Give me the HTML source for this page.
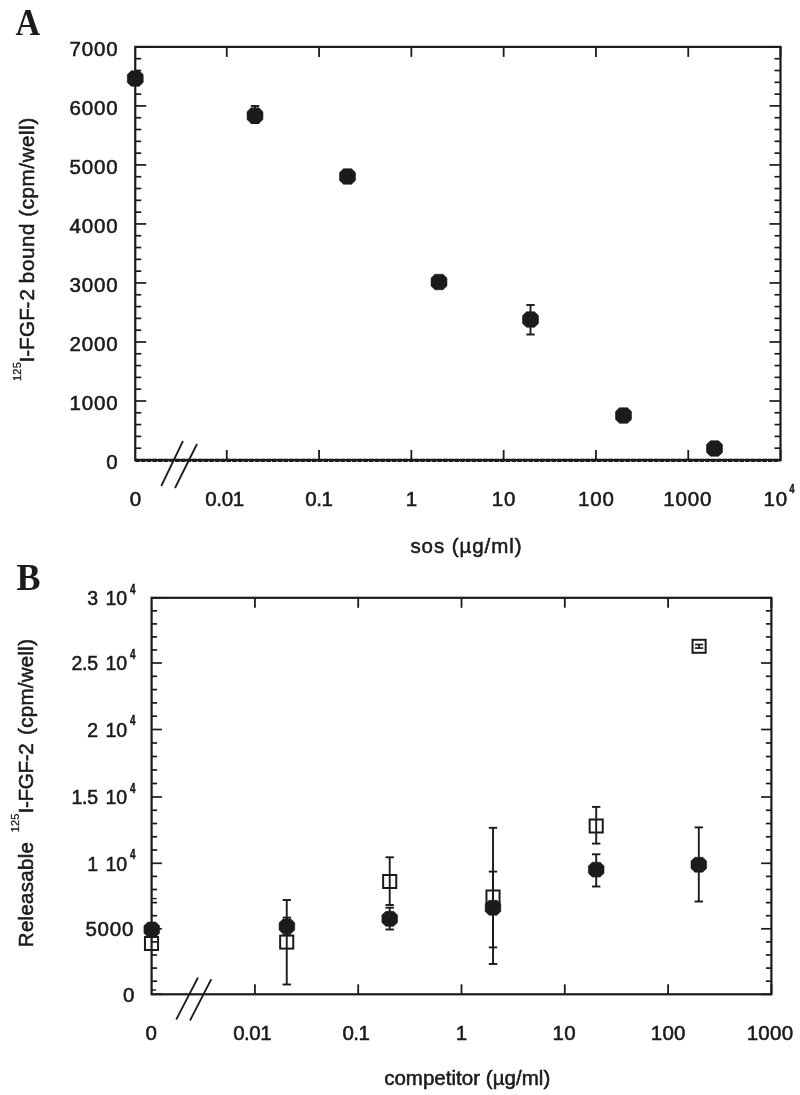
<!DOCTYPE html>
<html><head><meta charset="utf-8"><title>Figure</title>
<style>html,body{margin:0;padding:0;background:#fff}svg{display:block}text{font-family:"Liberation Sans",sans-serif;fill:#1c1a1b}.p{font-family:"Liberation Serif",serif;font-weight:bold;font-size:38px}.t{font-size:20.5px;letter-spacing:1px;stroke:#1c1a1b;stroke-width:0.55px}.s{font-size:11.5px;font-weight:bold;letter-spacing:0.3px;stroke:#1c1a1b;stroke-width:0.5px}.u{font-size:11px;letter-spacing:0.2px;stroke:#1c1a1b;stroke-width:0.3px}</style></head><body>
<svg width="800" height="1095" viewBox="0 0 800 1095">
<rect width="800" height="1095" fill="#fff"/>
<rect x="135.25" y="46.9" width="645.25" height="413.1" fill="none" stroke="#1c1a1b" stroke-width="2.2"/>
<line x1="135.25" y1="460.3" x2="780.5" y2="460.3" stroke="#1c1a1b" stroke-width="3.2" stroke-dasharray="4.6 1.1"/>
<line x1="135.25" y1="460.00" x2="146.25" y2="460.00" stroke="#1c1a1b" stroke-width="1.7"/>
<line x1="780.50" y1="460.00" x2="769.50" y2="460.00" stroke="#1c1a1b" stroke-width="1.7"/>
<line x1="135.25" y1="448.20" x2="141.25" y2="448.20" stroke="#1c1a1b" stroke-width="1.7"/>
<line x1="780.50" y1="448.20" x2="774.50" y2="448.20" stroke="#1c1a1b" stroke-width="1.7"/>
<line x1="135.25" y1="436.39" x2="141.25" y2="436.39" stroke="#1c1a1b" stroke-width="1.7"/>
<line x1="780.50" y1="436.39" x2="774.50" y2="436.39" stroke="#1c1a1b" stroke-width="1.7"/>
<line x1="135.25" y1="424.59" x2="141.25" y2="424.59" stroke="#1c1a1b" stroke-width="1.7"/>
<line x1="780.50" y1="424.59" x2="774.50" y2="424.59" stroke="#1c1a1b" stroke-width="1.7"/>
<line x1="135.25" y1="412.79" x2="141.25" y2="412.79" stroke="#1c1a1b" stroke-width="1.7"/>
<line x1="780.50" y1="412.79" x2="774.50" y2="412.79" stroke="#1c1a1b" stroke-width="1.7"/>
<line x1="135.25" y1="400.99" x2="146.25" y2="400.99" stroke="#1c1a1b" stroke-width="1.7"/>
<line x1="780.50" y1="400.99" x2="769.50" y2="400.99" stroke="#1c1a1b" stroke-width="1.7"/>
<line x1="135.25" y1="389.18" x2="141.25" y2="389.18" stroke="#1c1a1b" stroke-width="1.7"/>
<line x1="780.50" y1="389.18" x2="774.50" y2="389.18" stroke="#1c1a1b" stroke-width="1.7"/>
<line x1="135.25" y1="377.38" x2="141.25" y2="377.38" stroke="#1c1a1b" stroke-width="1.7"/>
<line x1="780.50" y1="377.38" x2="774.50" y2="377.38" stroke="#1c1a1b" stroke-width="1.7"/>
<line x1="135.25" y1="365.58" x2="141.25" y2="365.58" stroke="#1c1a1b" stroke-width="1.7"/>
<line x1="780.50" y1="365.58" x2="774.50" y2="365.58" stroke="#1c1a1b" stroke-width="1.7"/>
<line x1="135.25" y1="353.77" x2="141.25" y2="353.77" stroke="#1c1a1b" stroke-width="1.7"/>
<line x1="780.50" y1="353.77" x2="774.50" y2="353.77" stroke="#1c1a1b" stroke-width="1.7"/>
<line x1="135.25" y1="341.97" x2="146.25" y2="341.97" stroke="#1c1a1b" stroke-width="1.7"/>
<line x1="780.50" y1="341.97" x2="769.50" y2="341.97" stroke="#1c1a1b" stroke-width="1.7"/>
<line x1="135.25" y1="330.17" x2="141.25" y2="330.17" stroke="#1c1a1b" stroke-width="1.7"/>
<line x1="780.50" y1="330.17" x2="774.50" y2="330.17" stroke="#1c1a1b" stroke-width="1.7"/>
<line x1="135.25" y1="318.37" x2="141.25" y2="318.37" stroke="#1c1a1b" stroke-width="1.7"/>
<line x1="780.50" y1="318.37" x2="774.50" y2="318.37" stroke="#1c1a1b" stroke-width="1.7"/>
<line x1="135.25" y1="306.56" x2="141.25" y2="306.56" stroke="#1c1a1b" stroke-width="1.7"/>
<line x1="780.50" y1="306.56" x2="774.50" y2="306.56" stroke="#1c1a1b" stroke-width="1.7"/>
<line x1="135.25" y1="294.76" x2="141.25" y2="294.76" stroke="#1c1a1b" stroke-width="1.7"/>
<line x1="780.50" y1="294.76" x2="774.50" y2="294.76" stroke="#1c1a1b" stroke-width="1.7"/>
<line x1="135.25" y1="282.96" x2="146.25" y2="282.96" stroke="#1c1a1b" stroke-width="1.7"/>
<line x1="780.50" y1="282.96" x2="769.50" y2="282.96" stroke="#1c1a1b" stroke-width="1.7"/>
<line x1="135.25" y1="271.15" x2="141.25" y2="271.15" stroke="#1c1a1b" stroke-width="1.7"/>
<line x1="780.50" y1="271.15" x2="774.50" y2="271.15" stroke="#1c1a1b" stroke-width="1.7"/>
<line x1="135.25" y1="259.35" x2="141.25" y2="259.35" stroke="#1c1a1b" stroke-width="1.7"/>
<line x1="780.50" y1="259.35" x2="774.50" y2="259.35" stroke="#1c1a1b" stroke-width="1.7"/>
<line x1="135.25" y1="247.55" x2="141.25" y2="247.55" stroke="#1c1a1b" stroke-width="1.7"/>
<line x1="780.50" y1="247.55" x2="774.50" y2="247.55" stroke="#1c1a1b" stroke-width="1.7"/>
<line x1="135.25" y1="235.75" x2="141.25" y2="235.75" stroke="#1c1a1b" stroke-width="1.7"/>
<line x1="780.50" y1="235.75" x2="774.50" y2="235.75" stroke="#1c1a1b" stroke-width="1.7"/>
<line x1="135.25" y1="223.94" x2="146.25" y2="223.94" stroke="#1c1a1b" stroke-width="1.7"/>
<line x1="780.50" y1="223.94" x2="769.50" y2="223.94" stroke="#1c1a1b" stroke-width="1.7"/>
<line x1="135.25" y1="212.14" x2="141.25" y2="212.14" stroke="#1c1a1b" stroke-width="1.7"/>
<line x1="780.50" y1="212.14" x2="774.50" y2="212.14" stroke="#1c1a1b" stroke-width="1.7"/>
<line x1="135.25" y1="200.34" x2="141.25" y2="200.34" stroke="#1c1a1b" stroke-width="1.7"/>
<line x1="780.50" y1="200.34" x2="774.50" y2="200.34" stroke="#1c1a1b" stroke-width="1.7"/>
<line x1="135.25" y1="188.53" x2="141.25" y2="188.53" stroke="#1c1a1b" stroke-width="1.7"/>
<line x1="780.50" y1="188.53" x2="774.50" y2="188.53" stroke="#1c1a1b" stroke-width="1.7"/>
<line x1="135.25" y1="176.73" x2="141.25" y2="176.73" stroke="#1c1a1b" stroke-width="1.7"/>
<line x1="780.50" y1="176.73" x2="774.50" y2="176.73" stroke="#1c1a1b" stroke-width="1.7"/>
<line x1="135.25" y1="164.93" x2="146.25" y2="164.93" stroke="#1c1a1b" stroke-width="1.7"/>
<line x1="780.50" y1="164.93" x2="769.50" y2="164.93" stroke="#1c1a1b" stroke-width="1.7"/>
<line x1="135.25" y1="153.13" x2="141.25" y2="153.13" stroke="#1c1a1b" stroke-width="1.7"/>
<line x1="780.50" y1="153.13" x2="774.50" y2="153.13" stroke="#1c1a1b" stroke-width="1.7"/>
<line x1="135.25" y1="141.32" x2="141.25" y2="141.32" stroke="#1c1a1b" stroke-width="1.7"/>
<line x1="780.50" y1="141.32" x2="774.50" y2="141.32" stroke="#1c1a1b" stroke-width="1.7"/>
<line x1="135.25" y1="129.52" x2="141.25" y2="129.52" stroke="#1c1a1b" stroke-width="1.7"/>
<line x1="780.50" y1="129.52" x2="774.50" y2="129.52" stroke="#1c1a1b" stroke-width="1.7"/>
<line x1="135.25" y1="117.72" x2="141.25" y2="117.72" stroke="#1c1a1b" stroke-width="1.7"/>
<line x1="780.50" y1="117.72" x2="774.50" y2="117.72" stroke="#1c1a1b" stroke-width="1.7"/>
<line x1="135.25" y1="105.91" x2="146.25" y2="105.91" stroke="#1c1a1b" stroke-width="1.7"/>
<line x1="780.50" y1="105.91" x2="769.50" y2="105.91" stroke="#1c1a1b" stroke-width="1.7"/>
<line x1="135.25" y1="94.11" x2="141.25" y2="94.11" stroke="#1c1a1b" stroke-width="1.7"/>
<line x1="780.50" y1="94.11" x2="774.50" y2="94.11" stroke="#1c1a1b" stroke-width="1.7"/>
<line x1="135.25" y1="82.31" x2="141.25" y2="82.31" stroke="#1c1a1b" stroke-width="1.7"/>
<line x1="780.50" y1="82.31" x2="774.50" y2="82.31" stroke="#1c1a1b" stroke-width="1.7"/>
<line x1="135.25" y1="70.51" x2="141.25" y2="70.51" stroke="#1c1a1b" stroke-width="1.7"/>
<line x1="780.50" y1="70.51" x2="774.50" y2="70.51" stroke="#1c1a1b" stroke-width="1.7"/>
<line x1="135.25" y1="58.70" x2="141.25" y2="58.70" stroke="#1c1a1b" stroke-width="1.7"/>
<line x1="780.50" y1="58.70" x2="774.50" y2="58.70" stroke="#1c1a1b" stroke-width="1.7"/>
<line x1="135.25" y1="46.90" x2="146.25" y2="46.90" stroke="#1c1a1b" stroke-width="1.7"/>
<line x1="780.50" y1="46.90" x2="769.50" y2="46.90" stroke="#1c1a1b" stroke-width="1.7"/>
<line x1="226.75" y1="46.90" x2="226.75" y2="56.90" stroke="#1c1a1b" stroke-width="1.8"/>
<line x1="226.75" y1="460.00" x2="226.75" y2="450.00" stroke="#1c1a1b" stroke-width="1.8"/>
<line x1="319.05" y1="46.90" x2="319.05" y2="56.90" stroke="#1c1a1b" stroke-width="1.8"/>
<line x1="319.05" y1="460.00" x2="319.05" y2="450.00" stroke="#1c1a1b" stroke-width="1.8"/>
<line x1="411.35" y1="46.90" x2="411.35" y2="56.90" stroke="#1c1a1b" stroke-width="1.8"/>
<line x1="411.35" y1="460.00" x2="411.35" y2="450.00" stroke="#1c1a1b" stroke-width="1.8"/>
<line x1="503.65" y1="46.90" x2="503.65" y2="56.90" stroke="#1c1a1b" stroke-width="1.8"/>
<line x1="503.65" y1="460.00" x2="503.65" y2="450.00" stroke="#1c1a1b" stroke-width="1.8"/>
<line x1="595.95" y1="46.90" x2="595.95" y2="56.90" stroke="#1c1a1b" stroke-width="1.8"/>
<line x1="595.95" y1="460.00" x2="595.95" y2="450.00" stroke="#1c1a1b" stroke-width="1.8"/>
<line x1="688.25" y1="46.90" x2="688.25" y2="56.90" stroke="#1c1a1b" stroke-width="1.8"/>
<line x1="688.25" y1="460.00" x2="688.25" y2="450.00" stroke="#1c1a1b" stroke-width="1.8"/>
<line x1="780.55" y1="46.90" x2="780.55" y2="56.90" stroke="#1c1a1b" stroke-width="1.8"/>
<line x1="780.55" y1="460.00" x2="780.55" y2="450.00" stroke="#1c1a1b" stroke-width="1.8"/>
<text x="118.60" y="468.80" class="t" text-anchor="end" style="letter-spacing:0.85px;">0</text>
<text x="118.60" y="409.79" class="t" text-anchor="end" style="letter-spacing:0.85px;">1000</text>
<text x="118.60" y="350.77" class="t" text-anchor="end" style="letter-spacing:0.85px;">2000</text>
<text x="118.60" y="291.76" class="t" text-anchor="end" style="letter-spacing:0.85px;">3000</text>
<text x="118.60" y="232.74" class="t" text-anchor="end" style="letter-spacing:0.85px;">4000</text>
<text x="118.60" y="173.73" class="t" text-anchor="end" style="letter-spacing:0.85px;">5000</text>
<text x="118.60" y="114.71" class="t" text-anchor="end" style="letter-spacing:0.85px;">6000</text>
<text x="118.60" y="55.70" class="t" text-anchor="end" style="letter-spacing:0.85px;">7000</text>
<text x="135.50" y="505.50" class="t" text-anchor="middle" style="letter-spacing:0px;">0</text>
<text x="224.57" y="505.50" class="t" text-anchor="middle" style="letter-spacing:-0.35px;">0.01</text>
<text x="318.88" y="505.50" class="t" text-anchor="middle" style="letter-spacing:-0.35px;">0.1</text>
<text x="411.78" y="505.50" class="t" text-anchor="middle" style="letter-spacing:0.85px;">1</text>
<text x="504.07" y="505.50" class="t" text-anchor="middle" style="letter-spacing:0.85px;">10</text>
<text x="596.38" y="505.50" class="t" text-anchor="middle" style="letter-spacing:0.85px;">100</text>
<text x="687.67" y="505.50" class="t" text-anchor="middle" style="letter-spacing:0.85px;">1000</text>
<text x="763.50" y="505.50" class="t" text-anchor="start" style="letter-spacing:0.85px;">10</text>
<text transform="translate(789.60,493.20) scale(0.78,1.12)" class="s" style="">4</text>
<line x1="161.25" y1="486.00" x2="183.00" y2="441.00" stroke="#1c1a1b" stroke-width="1.8"/>
<line x1="175.00" y1="488.00" x2="197.00" y2="444.00" stroke="#1c1a1b" stroke-width="1.8"/>
<line x1="530.50" y1="305.00" x2="530.50" y2="334.50" stroke="#1c1a1b" stroke-width="1.9"/>
<line x1="526.30" y1="305.00" x2="534.70" y2="305.00" stroke="#1c1a1b" stroke-width="1.9"/>
<line x1="526.30" y1="334.50" x2="534.70" y2="334.50" stroke="#1c1a1b" stroke-width="1.9"/>
<line x1="255.00" y1="106.00" x2="255.00" y2="123.00" stroke="#1c1a1b" stroke-width="1.9"/>
<line x1="250.80" y1="106.00" x2="259.20" y2="106.00" stroke="#1c1a1b" stroke-width="1.9"/>
<line x1="250.80" y1="123.00" x2="259.20" y2="123.00" stroke="#1c1a1b" stroke-width="1.9"/>
<polygon points="131.28,70.75 139.22,70.75 143.20,74.62 143.20,82.38 139.22,86.25 131.28,86.25 127.30,82.38 127.30,74.62" fill="#1c1a1b" stroke="#1c1a1b" stroke-width="0.6" stroke-linejoin="round"/>
<polygon points="251.03,107.85 258.98,107.85 262.95,111.72 262.95,119.47 258.98,123.35 251.03,123.35 247.05,119.47 247.05,111.72" fill="#1c1a1b" stroke="#1c1a1b" stroke-width="0.6" stroke-linejoin="round"/>
<polygon points="343.52,168.75 351.48,168.75 355.45,172.62 355.45,180.38 351.48,184.25 343.52,184.25 339.55,180.38 339.55,172.62" fill="#1c1a1b" stroke="#1c1a1b" stroke-width="0.6" stroke-linejoin="round"/>
<polygon points="435.02,274.25 442.98,274.25 446.95,278.12 446.95,285.88 442.98,289.75 435.02,289.75 431.05,285.88 431.05,278.12" fill="#1c1a1b" stroke="#1c1a1b" stroke-width="0.6" stroke-linejoin="round"/>
<polygon points="526.52,311.75 534.48,311.75 538.45,315.62 538.45,323.38 534.48,327.25 526.52,327.25 522.55,323.38 522.55,315.62" fill="#1c1a1b" stroke="#1c1a1b" stroke-width="0.6" stroke-linejoin="round"/>
<polygon points="619.52,407.75 627.48,407.75 631.45,411.62 631.45,419.38 627.48,423.25 619.52,423.25 615.55,419.38 615.55,411.62" fill="#1c1a1b" stroke="#1c1a1b" stroke-width="0.6" stroke-linejoin="round"/>
<polygon points="710.52,440.75 718.48,440.75 722.45,444.62 722.45,452.38 718.48,456.25 710.52,456.25 706.55,452.38 706.55,444.62" fill="#1c1a1b" stroke="#1c1a1b" stroke-width="0.6" stroke-linejoin="round"/>
<text class="p" transform="translate(15.5,35) scale(0.9,1)">A</text>
<text x="466.46" y="553.20" class="t" text-anchor="middle" style="letter-spacing:0.93px;">sos (µg/ml)</text>
<g transform="translate(34.4,381) rotate(-90)"><text class="t" style="letter-spacing:0.62px"><tspan class="u" dy="-13.5">125</tspan><tspan dy="13.5" dx="-0.1 -1.4 -1.3 -0.9 -0.9 -1.4 0" style="letter-spacing:1.2px">I-FGF-2</tspan><tspan dx="-1.6"> bound (cpm/well)</tspan></text></g>
<rect x="151.6" y="597.8" width="619.8" height="396.5" fill="none" stroke="#1c1a1b" stroke-width="2.2"/>
<line x1="151.60" y1="994.30" x2="161.90" y2="994.30" stroke="#1c1a1b" stroke-width="1.7"/>
<line x1="771.40" y1="994.30" x2="761.10" y2="994.30" stroke="#1c1a1b" stroke-width="1.7"/>
<line x1="151.60" y1="981.20" x2="157.10" y2="981.20" stroke="#1c1a1b" stroke-width="1.7"/>
<line x1="771.40" y1="981.20" x2="765.90" y2="981.20" stroke="#1c1a1b" stroke-width="1.7"/>
<line x1="151.60" y1="968.10" x2="157.10" y2="968.10" stroke="#1c1a1b" stroke-width="1.7"/>
<line x1="771.40" y1="968.10" x2="765.90" y2="968.10" stroke="#1c1a1b" stroke-width="1.7"/>
<line x1="151.60" y1="955.00" x2="157.10" y2="955.00" stroke="#1c1a1b" stroke-width="1.7"/>
<line x1="771.40" y1="955.00" x2="765.90" y2="955.00" stroke="#1c1a1b" stroke-width="1.7"/>
<line x1="151.60" y1="941.90" x2="157.10" y2="941.90" stroke="#1c1a1b" stroke-width="1.7"/>
<line x1="771.40" y1="941.90" x2="765.90" y2="941.90" stroke="#1c1a1b" stroke-width="1.7"/>
<line x1="151.60" y1="928.80" x2="161.90" y2="928.80" stroke="#1c1a1b" stroke-width="1.7"/>
<line x1="771.40" y1="928.80" x2="761.10" y2="928.80" stroke="#1c1a1b" stroke-width="1.7"/>
<line x1="151.60" y1="915.70" x2="157.10" y2="915.70" stroke="#1c1a1b" stroke-width="1.7"/>
<line x1="771.40" y1="915.70" x2="765.90" y2="915.70" stroke="#1c1a1b" stroke-width="1.7"/>
<line x1="151.60" y1="902.60" x2="157.10" y2="902.60" stroke="#1c1a1b" stroke-width="1.7"/>
<line x1="771.40" y1="902.60" x2="765.90" y2="902.60" stroke="#1c1a1b" stroke-width="1.7"/>
<line x1="151.60" y1="889.50" x2="157.10" y2="889.50" stroke="#1c1a1b" stroke-width="1.7"/>
<line x1="771.40" y1="889.50" x2="765.90" y2="889.50" stroke="#1c1a1b" stroke-width="1.7"/>
<line x1="151.60" y1="876.40" x2="157.10" y2="876.40" stroke="#1c1a1b" stroke-width="1.7"/>
<line x1="771.40" y1="876.40" x2="765.90" y2="876.40" stroke="#1c1a1b" stroke-width="1.7"/>
<line x1="151.60" y1="863.30" x2="161.90" y2="863.30" stroke="#1c1a1b" stroke-width="1.7"/>
<line x1="771.40" y1="863.30" x2="761.10" y2="863.30" stroke="#1c1a1b" stroke-width="1.7"/>
<line x1="151.60" y1="850.04" x2="157.10" y2="850.04" stroke="#1c1a1b" stroke-width="1.7"/>
<line x1="771.40" y1="850.04" x2="765.90" y2="850.04" stroke="#1c1a1b" stroke-width="1.7"/>
<line x1="151.60" y1="836.78" x2="157.10" y2="836.78" stroke="#1c1a1b" stroke-width="1.7"/>
<line x1="771.40" y1="836.78" x2="765.90" y2="836.78" stroke="#1c1a1b" stroke-width="1.7"/>
<line x1="151.60" y1="823.52" x2="157.10" y2="823.52" stroke="#1c1a1b" stroke-width="1.7"/>
<line x1="771.40" y1="823.52" x2="765.90" y2="823.52" stroke="#1c1a1b" stroke-width="1.7"/>
<line x1="151.60" y1="810.26" x2="157.10" y2="810.26" stroke="#1c1a1b" stroke-width="1.7"/>
<line x1="771.40" y1="810.26" x2="765.90" y2="810.26" stroke="#1c1a1b" stroke-width="1.7"/>
<line x1="151.60" y1="797.00" x2="161.90" y2="797.00" stroke="#1c1a1b" stroke-width="1.7"/>
<line x1="771.40" y1="797.00" x2="761.10" y2="797.00" stroke="#1c1a1b" stroke-width="1.7"/>
<line x1="151.60" y1="783.50" x2="157.10" y2="783.50" stroke="#1c1a1b" stroke-width="1.7"/>
<line x1="771.40" y1="783.50" x2="765.90" y2="783.50" stroke="#1c1a1b" stroke-width="1.7"/>
<line x1="151.60" y1="770.00" x2="157.10" y2="770.00" stroke="#1c1a1b" stroke-width="1.7"/>
<line x1="771.40" y1="770.00" x2="765.90" y2="770.00" stroke="#1c1a1b" stroke-width="1.7"/>
<line x1="151.60" y1="756.50" x2="157.10" y2="756.50" stroke="#1c1a1b" stroke-width="1.7"/>
<line x1="771.40" y1="756.50" x2="765.90" y2="756.50" stroke="#1c1a1b" stroke-width="1.7"/>
<line x1="151.60" y1="743.00" x2="157.10" y2="743.00" stroke="#1c1a1b" stroke-width="1.7"/>
<line x1="771.40" y1="743.00" x2="765.90" y2="743.00" stroke="#1c1a1b" stroke-width="1.7"/>
<line x1="151.60" y1="729.50" x2="161.90" y2="729.50" stroke="#1c1a1b" stroke-width="1.7"/>
<line x1="771.40" y1="729.50" x2="761.10" y2="729.50" stroke="#1c1a1b" stroke-width="1.7"/>
<line x1="151.60" y1="716.20" x2="157.10" y2="716.20" stroke="#1c1a1b" stroke-width="1.7"/>
<line x1="771.40" y1="716.20" x2="765.90" y2="716.20" stroke="#1c1a1b" stroke-width="1.7"/>
<line x1="151.60" y1="702.90" x2="157.10" y2="702.90" stroke="#1c1a1b" stroke-width="1.7"/>
<line x1="771.40" y1="702.90" x2="765.90" y2="702.90" stroke="#1c1a1b" stroke-width="1.7"/>
<line x1="151.60" y1="689.60" x2="157.10" y2="689.60" stroke="#1c1a1b" stroke-width="1.7"/>
<line x1="771.40" y1="689.60" x2="765.90" y2="689.60" stroke="#1c1a1b" stroke-width="1.7"/>
<line x1="151.60" y1="676.30" x2="157.10" y2="676.30" stroke="#1c1a1b" stroke-width="1.7"/>
<line x1="771.40" y1="676.30" x2="765.90" y2="676.30" stroke="#1c1a1b" stroke-width="1.7"/>
<line x1="151.60" y1="663.00" x2="161.90" y2="663.00" stroke="#1c1a1b" stroke-width="1.7"/>
<line x1="771.40" y1="663.00" x2="761.10" y2="663.00" stroke="#1c1a1b" stroke-width="1.7"/>
<line x1="151.60" y1="649.96" x2="157.10" y2="649.96" stroke="#1c1a1b" stroke-width="1.7"/>
<line x1="771.40" y1="649.96" x2="765.90" y2="649.96" stroke="#1c1a1b" stroke-width="1.7"/>
<line x1="151.60" y1="636.92" x2="157.10" y2="636.92" stroke="#1c1a1b" stroke-width="1.7"/>
<line x1="771.40" y1="636.92" x2="765.90" y2="636.92" stroke="#1c1a1b" stroke-width="1.7"/>
<line x1="151.60" y1="623.88" x2="157.10" y2="623.88" stroke="#1c1a1b" stroke-width="1.7"/>
<line x1="771.40" y1="623.88" x2="765.90" y2="623.88" stroke="#1c1a1b" stroke-width="1.7"/>
<line x1="151.60" y1="610.84" x2="157.10" y2="610.84" stroke="#1c1a1b" stroke-width="1.7"/>
<line x1="771.40" y1="610.84" x2="765.90" y2="610.84" stroke="#1c1a1b" stroke-width="1.7"/>
<line x1="151.60" y1="597.80" x2="161.90" y2="597.80" stroke="#1c1a1b" stroke-width="1.7"/>
<line x1="771.40" y1="597.80" x2="761.10" y2="597.80" stroke="#1c1a1b" stroke-width="1.7"/>
<line x1="151.60" y1="990.00" x2="156.10" y2="990.00" stroke="#1c1a1b" stroke-width="1.4"/>
<line x1="151.60" y1="898.60" x2="156.60" y2="898.60" stroke="#1c1a1b" stroke-width="1.4"/>
<line x1="254.90" y1="597.80" x2="254.90" y2="607.80" stroke="#1c1a1b" stroke-width="1.8"/>
<line x1="254.90" y1="994.30" x2="254.90" y2="984.30" stroke="#1c1a1b" stroke-width="1.8"/>
<line x1="358.20" y1="597.80" x2="358.20" y2="607.80" stroke="#1c1a1b" stroke-width="1.8"/>
<line x1="358.20" y1="994.30" x2="358.20" y2="984.30" stroke="#1c1a1b" stroke-width="1.8"/>
<line x1="461.50" y1="597.80" x2="461.50" y2="607.80" stroke="#1c1a1b" stroke-width="1.8"/>
<line x1="461.50" y1="994.30" x2="461.50" y2="984.30" stroke="#1c1a1b" stroke-width="1.8"/>
<line x1="564.80" y1="597.80" x2="564.80" y2="607.80" stroke="#1c1a1b" stroke-width="1.8"/>
<line x1="564.80" y1="994.30" x2="564.80" y2="984.30" stroke="#1c1a1b" stroke-width="1.8"/>
<line x1="668.10" y1="597.80" x2="668.10" y2="607.80" stroke="#1c1a1b" stroke-width="1.8"/>
<line x1="668.10" y1="994.30" x2="668.10" y2="984.30" stroke="#1c1a1b" stroke-width="1.8"/>
<line x1="771.40" y1="597.80" x2="771.40" y2="607.80" stroke="#1c1a1b" stroke-width="1.8"/>
<line x1="771.40" y1="994.30" x2="771.40" y2="984.30" stroke="#1c1a1b" stroke-width="1.8"/>
<text x="134.30" y="1001.50" class="t" text-anchor="end" style="letter-spacing:0px;">0</text>
<text x="134.05" y="936.00" class="t" text-anchor="end" style="letter-spacing:0.75px;">5000</text>
<text x="127.10" y="870.50" class="t" text-anchor="end" style="letter-spacing:-0.1px;font-size:19.5px;">10</text>
<text transform="translate(130.00,859.20) scale(0.78,1.12)" class="s" style="font-size:12.5px;">4</text>
<text x="97.70" y="870.50" class="t" text-anchor="end" style="letter-spacing:-0.3px;font-size:19.5px;">1</text>
<text x="127.10" y="804.20" class="t" text-anchor="end" style="letter-spacing:-0.1px;font-size:19.5px;">10</text>
<text transform="translate(130.00,792.90) scale(0.78,1.12)" class="s" style="font-size:12.5px;">4</text>
<text x="97.70" y="804.20" class="t" text-anchor="end" style="letter-spacing:-0.3px;font-size:19.5px;">1.5</text>
<text x="127.10" y="736.70" class="t" text-anchor="end" style="letter-spacing:-0.1px;font-size:19.5px;">10</text>
<text transform="translate(130.00,725.40) scale(0.78,1.12)" class="s" style="font-size:12.5px;">4</text>
<text x="97.70" y="736.70" class="t" text-anchor="end" style="letter-spacing:-0.3px;font-size:19.5px;">2</text>
<text x="127.10" y="670.20" class="t" text-anchor="end" style="letter-spacing:-0.1px;font-size:19.5px;">10</text>
<text transform="translate(130.00,658.90) scale(0.78,1.12)" class="s" style="font-size:12.5px;">4</text>
<text x="97.70" y="670.20" class="t" text-anchor="end" style="letter-spacing:-0.3px;font-size:19.5px;">2.5</text>
<text x="127.10" y="605.00" class="t" text-anchor="end" style="letter-spacing:-0.1px;font-size:19.5px;">10</text>
<text transform="translate(130.00,593.70) scale(0.78,1.12)" class="s" style="font-size:12.5px;">4</text>
<text x="97.70" y="605.00" class="t" text-anchor="end" style="letter-spacing:-0.3px;font-size:19.5px;">3</text>
<text x="151.20" y="1039.70" class="t" text-anchor="middle" style="letter-spacing:0px;">0</text>
<text x="252.15" y="1039.70" class="t" text-anchor="middle" style="letter-spacing:-0.5px;">0.01</text>
<text x="355.95" y="1039.70" class="t" text-anchor="middle" style="letter-spacing:-0.5px;">0.1</text>
<text x="461.62" y="1039.70" class="t" text-anchor="middle" style="letter-spacing:0.25px;">1</text>
<text x="564.22" y="1039.70" class="t" text-anchor="middle" style="letter-spacing:0.25px;">10</text>
<text x="668.22" y="1039.70" class="t" text-anchor="middle" style="letter-spacing:0.25px;">100</text>
<text x="770.02" y="1039.70" class="t" text-anchor="middle" style="letter-spacing:0.25px;">1000</text>
<line x1="176.25" y1="1019.50" x2="198.00" y2="977.50" stroke="#1c1a1b" stroke-width="1.8"/>
<line x1="190.00" y1="1020.50" x2="211.25" y2="979.25" stroke="#1c1a1b" stroke-width="1.8"/>
<line x1="286.75" y1="900.00" x2="286.75" y2="984.50" stroke="#1c1a1b" stroke-width="1.9"/>
<line x1="282.55" y1="900.00" x2="290.95" y2="900.00" stroke="#1c1a1b" stroke-width="1.9"/>
<line x1="282.55" y1="984.50" x2="290.95" y2="984.50" stroke="#1c1a1b" stroke-width="1.9"/>
<line x1="286.90" y1="917.60" x2="286.90" y2="935.00" stroke="#1c1a1b" stroke-width="1.9"/>
<line x1="282.70" y1="917.60" x2="291.10" y2="917.60" stroke="#1c1a1b" stroke-width="1.9"/>
<line x1="282.70" y1="935.00" x2="291.10" y2="935.00" stroke="#1c1a1b" stroke-width="1.9"/>
<line x1="389.70" y1="857.30" x2="389.70" y2="905.00" stroke="#1c1a1b" stroke-width="1.9"/>
<line x1="385.50" y1="857.30" x2="393.90" y2="857.30" stroke="#1c1a1b" stroke-width="1.9"/>
<line x1="385.50" y1="905.00" x2="393.90" y2="905.00" stroke="#1c1a1b" stroke-width="1.9"/>
<line x1="389.70" y1="907.70" x2="389.70" y2="929.50" stroke="#1c1a1b" stroke-width="1.9"/>
<line x1="385.50" y1="907.70" x2="393.90" y2="907.70" stroke="#1c1a1b" stroke-width="1.9"/>
<line x1="385.50" y1="929.50" x2="393.90" y2="929.50" stroke="#1c1a1b" stroke-width="1.9"/>
<line x1="493.00" y1="827.80" x2="493.00" y2="964.00" stroke="#1c1a1b" stroke-width="1.9"/>
<line x1="488.80" y1="827.80" x2="497.20" y2="827.80" stroke="#1c1a1b" stroke-width="1.9"/>
<line x1="488.80" y1="964.00" x2="497.20" y2="964.00" stroke="#1c1a1b" stroke-width="1.9"/>
<line x1="493.00" y1="871.60" x2="493.00" y2="947.40" stroke="#1c1a1b" stroke-width="1.9"/>
<line x1="488.80" y1="871.60" x2="497.20" y2="871.60" stroke="#1c1a1b" stroke-width="1.9"/>
<line x1="488.80" y1="947.40" x2="497.20" y2="947.40" stroke="#1c1a1b" stroke-width="1.9"/>
<line x1="596.20" y1="806.90" x2="596.20" y2="843.60" stroke="#1c1a1b" stroke-width="1.9"/>
<line x1="592.00" y1="806.90" x2="600.40" y2="806.90" stroke="#1c1a1b" stroke-width="1.9"/>
<line x1="592.00" y1="843.60" x2="600.40" y2="843.60" stroke="#1c1a1b" stroke-width="1.9"/>
<line x1="596.20" y1="854.30" x2="596.20" y2="886.50" stroke="#1c1a1b" stroke-width="1.9"/>
<line x1="592.00" y1="854.30" x2="600.40" y2="854.30" stroke="#1c1a1b" stroke-width="1.9"/>
<line x1="592.00" y1="886.50" x2="600.40" y2="886.50" stroke="#1c1a1b" stroke-width="1.9"/>
<line x1="698.80" y1="827.40" x2="698.80" y2="901.50" stroke="#1c1a1b" stroke-width="1.9"/>
<line x1="694.60" y1="827.40" x2="703.00" y2="827.40" stroke="#1c1a1b" stroke-width="1.9"/>
<line x1="694.60" y1="901.50" x2="703.00" y2="901.50" stroke="#1c1a1b" stroke-width="1.9"/>
<rect x="144.95" y="937.00" width="13.1" height="13.0" fill="none" stroke="#1c1a1b" stroke-width="2"/>
<rect x="280.15" y="935.60" width="13.1" height="13.0" fill="none" stroke="#1c1a1b" stroke-width="2"/>
<rect x="383.15" y="875.00" width="13.1" height="13.0" fill="none" stroke="#1c1a1b" stroke-width="2"/>
<rect x="486.45" y="890.50" width="13.1" height="13.0" fill="none" stroke="#1c1a1b" stroke-width="2"/>
<rect x="589.65" y="819.50" width="13.1" height="13.0" fill="none" stroke="#1c1a1b" stroke-width="2"/>
<rect x="692.55" y="639.80" width="13.1" height="13.0" fill="none" stroke="#1c1a1b" stroke-width="2"/>
<line x1="699.10" y1="644.50" x2="699.10" y2="648.10" stroke="#1c1a1b" stroke-width="1.7"/>
<line x1="695.00" y1="644.50" x2="703.20" y2="644.50" stroke="#1c1a1b" stroke-width="1.7"/>
<line x1="695.00" y1="648.10" x2="703.20" y2="648.10" stroke="#1c1a1b" stroke-width="1.7"/>
<polygon points="147.85,922.05 155.65,922.05 159.55,925.77 159.55,933.23 155.65,936.95 147.85,936.95 143.95,933.23 143.95,925.77" fill="#1c1a1b" stroke="#1c1a1b" stroke-width="0.6" stroke-linejoin="round"/>
<polygon points="283.00,918.95 290.80,918.95 294.70,922.67 294.70,930.12 290.80,933.85 283.00,933.85 279.10,930.12 279.10,922.67" fill="#1c1a1b" stroke="#1c1a1b" stroke-width="0.6" stroke-linejoin="round"/>
<polygon points="385.80,911.35 393.60,911.35 397.50,915.07 397.50,922.52 393.60,926.25 385.80,926.25 381.90,922.52 381.90,915.07" fill="#1c1a1b" stroke="#1c1a1b" stroke-width="0.6" stroke-linejoin="round"/>
<polygon points="489.10,900.25 496.90,900.25 500.80,903.98 500.80,911.43 496.90,915.15 489.10,915.15 485.20,911.43 485.20,903.98" fill="#1c1a1b" stroke="#1c1a1b" stroke-width="0.6" stroke-linejoin="round"/>
<polygon points="592.30,862.15 600.10,862.15 604.00,865.88 604.00,873.33 600.10,877.05 592.30,877.05 588.40,873.33 588.40,865.88" fill="#1c1a1b" stroke="#1c1a1b" stroke-width="0.6" stroke-linejoin="round"/>
<polygon points="694.90,857.25 702.70,857.25 706.60,860.98 706.60,868.43 702.70,872.15 694.90,872.15 691.00,868.43 691.00,860.98" fill="#1c1a1b" stroke="#1c1a1b" stroke-width="0.6" stroke-linejoin="round"/>
<text class="p" transform="translate(16.5,589.5) scale(0.95,1)">B</text>
<text x="467.21" y="1084.60" class="t" text-anchor="middle" style="letter-spacing:0.03px;">competitor (µg/ml)</text>
<g transform="translate(32.6,947.2) rotate(-90)"><text class="t" style="letter-spacing:0.28px">Releasable<tspan class="u" dy="-13.5" dx="9.5">125</tspan><tspan dy="13.5" dx="0" style="letter-spacing:-0.27px">I-FGF-2</tspan><tspan dx="8.6">(cpm/well)</tspan></text></g>
</svg></body></html>
